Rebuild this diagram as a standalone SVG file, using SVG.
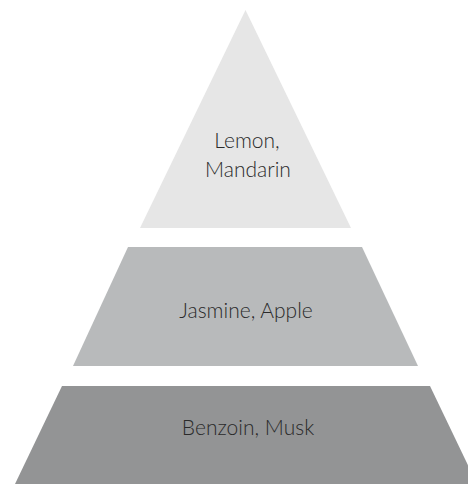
<svg xmlns="http://www.w3.org/2000/svg" width="468" height="484" viewBox="0 0 468 484">
<style>
.lbl{font-family:Lato,"Liberation Sans",sans-serif;font-weight:300;font-size:21px;fill:#2a2a2a;text-anchor:middle}
</style>
<rect width="468" height="484" fill="#ffffff"/>
<g id="top">
<polygon points="245.5,10 351,228 140,228" fill="#e6e6e6"/>
<text class="lbl" x="247" y="148">Lemon,</text>
<text class="lbl" x="248" y="177">Mandarin</text>
</g>
<g id="middle">
<polygon points="128,247 362,247 418,366 73,366" fill="#b8babb"/>
<text class="lbl" x="246" y="318">Jasmine, Apple</text>
</g>
<g id="bottom">
<polygon points="62,386 430,386 477,484 15,484" fill="#939495"/>
<text class="lbl" x="248" y="435">Benzoin, Musk</text>
</g>
<g id="connectors"/>
</svg>
